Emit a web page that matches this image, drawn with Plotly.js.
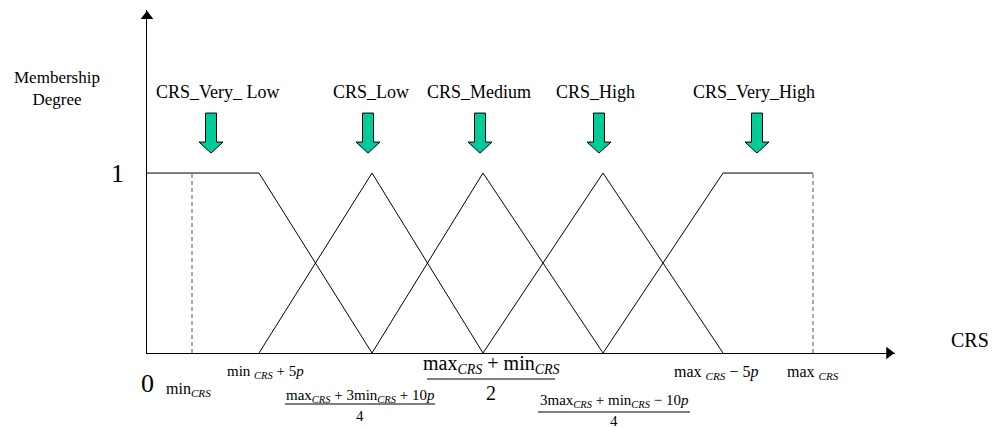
<!DOCTYPE html>
<html>
<head>
<meta charset="utf-8">
<script src="https://cdn.plot.ly/plotly-3.0.1.min.js"></script>
<style>html,body{margin:0;padding:0;background:#fff;}#chart{width:997px;height:428px;}</style>
</head>
<body>
<div id="chart"></div>
<script>
// ---- data (CRS axis positions, membership degrees) ----
const categories = ['CRS_Very_ Low', 'CRS_Low', 'CRS_Medium', 'CRS_High', 'CRS_Very_High'];
const xMin = 45, xMinP5 = 112, xQ1 = 225, xMid = 336, xQ3 = 456, xMaxM5 = 576, xMax = 666;
const vlX = [0, xMinP5, xQ1],      vlY = [1, 1, 0];
const lowX = [xMinP5, xQ1, xMid],  lowY = [0, 1, 0];
const medX = [xQ1, xMid, xQ3],     medY = [0, 1, 0];
const highX = [xMid, xQ3, xMaxM5], highY = [0, 1, 0];
const vhX = [xQ3, xMaxM5, xMax],   vhY = [0, 1, 1];
const dashMinX = [xMin, xMin], dashMaxX = [xMax, xMax], dashY = [0, 1];
const tickLabelsX = [xMin, xMinP5, xQ1, xMid, xQ3, xMaxM5, xMax];

// ---- layout constants ----
const XR = 748, YR = 1.906;
const FONT = '"Liberation Serif", "Times New Roman", serif';
const arrowX = [64, 221, 333, 452, 610];
const labelX = [71, 224, 332, 448, 607];

const line = (x, y) => ({x, y, type: 'scatter', mode: 'lines', line: {color: '#000', width: 1}, hoverinfo: 'skip', showlegend: false});
const traces = [
  line(vlX, vlY), line(lowX, lowY), line(medX, medY), line(highX, highY), line(vhX, vhY),
  {x: dashMinX, y: dashY, type: 'scatter', mode: 'lines', line: {color: '#555', width: 1, dash: '4px,3px'}, showlegend: false, hoverinfo: 'skip'},
  {x: dashMaxX, y: dashY, type: 'scatter', mode: 'lines', line: {color: '#555', width: 1, dash: '4px,3px'}, showlegend: false, hoverinfo: 'skip'},
  // axis arrowheads
  {x: [0], y: [YR - 0.035], type: 'scatter', mode: 'markers', marker: {symbol: 'triangle-up', size: 11, color: '#000'}, cliponaxis: false, showlegend: false, hoverinfo: 'skip'},
  {x: [XR - 6], y: [0], type: 'scatter', mode: 'markers', marker: {symbol: 'triangle-right', size: 11, color: '#000'}, cliponaxis: false, showlegend: false, hoverinfo: 'skip'}
];

const shapes = [];
arrowX.forEach(x => {
  shapes.push({
    type: 'path', xref: 'x', yref: 'y', xsizemode: 'pixel', ysizemode: 'pixel',
    xanchor: x, yanchor: 1.111,
    path: 'M0,0 L-12,11 L-5.5,11 L-5.5,40 L5.5,40 L5.5,11 L12,11 Z',
    fillcolor: '#00CC99', line: {color: '#000', width: 1}
  });
});
// fraction bars (paper-referenced so they are not clipped below the axis)
const fracBar = (x, dx0, dx1, dy) => ({type: 'line', xref: 'paper', yref: 'paper', xsizemode: 'pixel', ysizemode: 'pixel',
  xanchor: x / XR, yanchor: 0, x0: dx0, x1: dx1, y0: dy, y1: dy, line: {color: '#000', width: 1.2}});
shapes.push(fracBar(xQ1, -87, 63, -51));
shapes.push(fracBar(xMid, -56, 72, -26));
shapes.push(fracBar(xQ3, -65, 87, -59));

const ann = (x, y, text, size, xshift, yshift, extra) => Object.assign({
  x, y, xref: 'x', yref: 'y', text, showarrow: false, xshift: xshift || 0, yshift: yshift || 0,
  font: {family: FONT, size, color: '#000'}, xanchor: 'center', yanchor: 'middle'
}, extra || {});

const S = '<sub><i>CRS</i></sub>';
const annotations = [];
categories.forEach((c, i) => annotations.push(ann(labelX[i], 1.45, c, 18)));
annotations.push(ann(0, 1, '1', 26, -30, 0));
annotations.push(ann(0, 0, '0', 26, 0, -30));
annotations.push(ann(tickLabelsX[0], 0, 'min' + S, 16, -4, -36));
annotations.push(ann(tickLabelsX[1], 0, 'min ' + S + ' + 5<i>p</i>', 15, 6, -19));
annotations.push(ann(tickLabelsX[2], 0, 'max' + S + ' + 3min' + S + ' + 10<i>p</i>', 15, -12, -43));
annotations.push(ann(tickLabelsX[2], 0, '4', 15, -12, -63));
annotations.push(ann(tickLabelsX[3], 0, 'max' + S + ' + min' + S, 20, 8, -11));
annotations.push(ann(tickLabelsX[3], 0, '2', 20, 8, -40));
annotations.push(ann(tickLabelsX[4], 0, '3max' + S + ' + min' + S + ' − 10<i>p</i>', 15, 11, -48));
annotations.push(ann(tickLabelsX[4], 0, '4', 15, 11, -68));
annotations.push(ann(tickLabelsX[5], 0, 'max ' + S + ' − 5<i>p</i>', 16, -7, -19));
annotations.push(ann(tickLabelsX[6], 0, 'max ' + S, 16, 0, -19));
annotations.push(ann(XR, 0, 'CRS', 20, 75, 13));
annotations.push(ann(0, 1.47, 'Membership<br>Degree', 17, -90, 0));

const layout = {
  width: 997, height: 428,
  margin: {l: 147, r: 102, t: 10, b: 75},
  paper_bgcolor: '#fff', plot_bgcolor: '#fff',
  xaxis: {range: [0, XR], showgrid: false, zeroline: false, showticklabels: false, ticks: '', showline: true, linecolor: '#000', linewidth: 1},
  yaxis: {range: [0, YR], showgrid: false, zeroline: false, showticklabels: false, ticks: '', showline: true, linecolor: '#000', linewidth: 1},
  shapes, annotations, showlegend: false
};
Plotly.newPlot('chart', traces, layout, {staticPlot: true});
</script>
</body>
</html>
